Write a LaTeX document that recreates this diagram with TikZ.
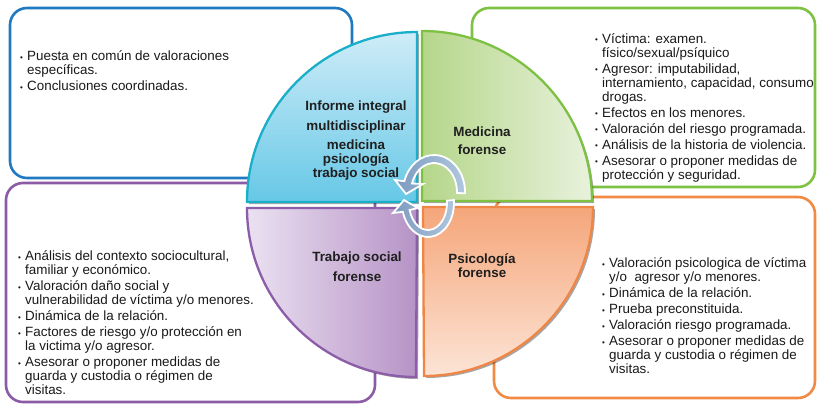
\documentclass[tikz,border=0pt]{standalone}
\usepackage{fontspec}
\setmainfont{Liberation Sans}
\usetikzlibrary{shadows}
\definecolor{bxblue}{HTML}{2079C1}
\definecolor{bxgreen}{HTML}{7DC242}
\definecolor{bxpurple}{HTML}{8B5BA5}
\definecolor{bxorange}{HTML}{F08A45}
\definecolor{qblue}{HTML}{1AAFC9}
\definecolor{qblueA}{HTML}{CFECF8}
\definecolor{qblueB}{HTML}{66C8E6}
\definecolor{qgreen}{HTML}{7CC142}
\definecolor{qgreenA}{HTML}{B5D68A}
\definecolor{qgreenB}{HTML}{E8F2DC}
\definecolor{qpurple}{HTML}{8C5DA8}
\definecolor{qpurpleA}{HTML}{EBE1F1}
\definecolor{qpurpleB}{HTML}{B693C6}
\definecolor{qorange}{HTML}{EF8646}
\definecolor{qorangeA}{HTML}{F5A67A}
\definecolor{qorangeB}{HTML}{FCE4D6}
\definecolor{arrA}{HTML}{7C9BC0}
\definecolor{arrB}{HTML}{B0C7DE}
\newcommand\bu{\makebox[7pt][l]{\raisebox{0.6pt}{\fontsize{8}{8}\selectfont\textbullet}}}
\newcommand\ind{\hspace*{7pt}}
\tikzset{
  bigbox/.style={rounded corners=17pt, line width=2.6pt, fill=white},
  quad/.style={line width=2.3pt, drop shadow={shadow xshift=2pt, shadow yshift=-2pt, opacity=0.35, fill=black}},
  btext/.style={inner sep=0pt, align=left, font=\fontsize{13.4}{14}\selectfont, text=black!90, anchor=west},
  qtext/.style={inner sep=0pt, align=center, font=\bfseries\fontsize{13.4}{14}\selectfont, text=black!88},
  cyc/.style={draw=white, line width=1.8pt, left color=arrA, right color=arrB}
}
\begin{document}
\begin{tikzpicture}[x=1pt, y=-1pt]
\useasboundingbox (0,0) rectangle (818,405);
% outer boxes
\draw[bigbox, draw=bxblue] (10,8) rectangle (352,178);
\draw[bigbox, draw=bxgreen] (472,8) rectangle (815,187);
\draw[bigbox, draw=bxpurple] (6,183) rectangle (375,402);
\draw[bigbox, draw=bxorange] (494,197) rectangle (815,398);
% quadrants
\draw[quad, draw=qblue, top color=qblueA, bottom color=qblueB]
  (417,202) -- (247,202) arc[start angle=180, end angle=90, radius=170pt] -- cycle;
\draw[quad, draw=qgreen, left color=qgreenA, right color=qgreenB]
  (422,201) -- (592,201) arc[start angle=0, end angle=90, radius=170pt] -- cycle;
\draw[quad, draw=qpurple, left color=qpurpleA, right color=qpurpleB]
  (417,208) -- (247,208) arc[start angle=180, end angle=270, radius=169pt] -- cycle;
\draw[quad, draw=qorange, top color=qorangeA, bottom color=qorangeB]
  (423,207) -- (593,207) arc[start angle=0, end angle=-90, radius=169pt] -- cycle;
% quadrant labels
\node[qtext] (lcenter) at (356,141) {Informe integral\\[6pt] multidisciplinar\\[5pt] medicina\\ psicología\\ trabajo social};
\node[qtext] (lmed) at (482,141) {Medicina\\[4pt] forense};
\node[qtext] (ltrab) at (357,267) {Trabajo social\\[6pt] forense};
\node[qtext] (lpsi) at (482,266) {Psicología\\ forense};
% circular arrows
\draw[cyc]
  ([shift={(-2:31pt and 37pt)}]434,192) arc[start angle=-2, end angle=163, x radius=31pt, y radius=37pt]
  -- (395,180) -- (406,194) -- (423,184)
  -- ([shift={(163:23pt and 29pt)}]434,192) arc[start angle=163, end angle=-2, x radius=23pt, y radius=29pt] -- cycle;
\draw[cyc]
  ([shift={(5:26pt and 34pt)}]428,203) arc[start angle=5, end angle=-165, x radius=26pt, y radius=34pt]
  -- (393,213) -- (404,200) -- (418,208)
  -- ([shift={(-165:19pt and 27pt)}]428,203) arc[start angle=-165, end angle=5, x radius=19pt, y radius=27pt] -- cycle;
% box texts
\node[btext] (tblue) at (20,71) {\bu Puesta en común de valoraciones\\ \ind específicas.\\[2pt] \bu Conclusiones coordinadas.};
\node[btext] (tgreen) at (595,108) {\bu Víctima: examen.\\ \ind físico/sexual/psíquico\\[2pt]
  \bu Agresor: imputabilidad,\\ \ind internamiento, capacidad, consumo\\ \ind drogas.\\[2pt]
  \bu Efectos en los menores.\\[2pt]
  \bu Valoración del riesgo programada.\\[2pt]
  \bu Análisis de la historia de violencia.\\[2pt]
  \bu Asesorar o proponer medidas de\\ \ind protección y seguridad.};
\node[btext] (tpurple) at (18,323) {\bu Análisis del contexto sociocultural,\\ \ind familiar y económico.\\[2pt]
  \bu Valoración daño social y\\ \ind vulnerabilidad de víctima y/o menores.\\[2pt]
  \bu Dinámica de la relación.\\[2pt]
  \bu Factores de riesgo y/o protección en\\ \ind la victima y/o agresor.\\[2pt]
  \bu Asesorar o proponer medidas de\\ \ind guarda y custodia o régimen de\\ \ind visitas.};
\node[btext] (torange) at (602,316) {\bu Valoración psicologica de víctima\\ \ind y/o\ \ agresor y/o menores.\\[2pt]
  \bu Dinámica de la relación.\\[2pt]
  \bu Prueba preconstituida.\\[2pt]
  \bu Valoración riesgo programada.\\[2pt]
  \bu Asesorar o proponer medidas de\\ \ind guarda y custodia o régimen de\\ \ind visitas.};
\end{tikzpicture}
\end{document}
